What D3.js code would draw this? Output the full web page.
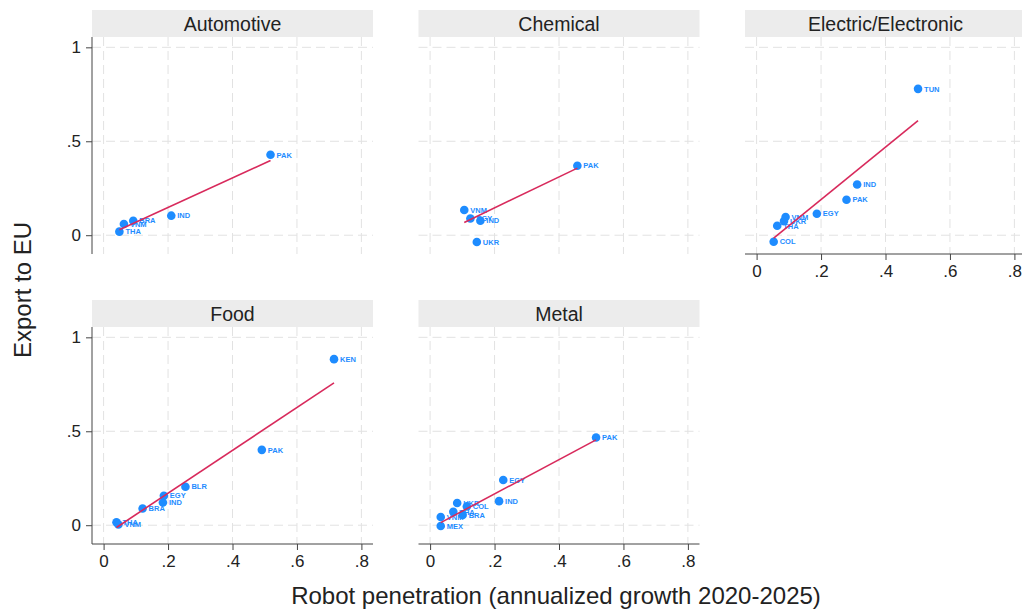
<!DOCTYPE html>
<html>
<head>
<meta charset="utf-8">
<script src="https://cdn.jsdelivr.net/npm/d3@7"></script>
<style>
  html, body { margin: 0; padding: 0; background: #fff; }
  svg { display: block; font-family: "Liberation Sans", Arial, Helvetica, sans-serif; }
</style>
</head>
<body>
<svg id="chart" width="1022" height="610"></svg>
<script>
// ---------- data ----------
const panelNames = ["Automotive", "Chemical", "Electric/Electronic", "Food", "Metal"];

const autoCountries = ["THA", "VNM", "BRA", "IND", "PAK"];
const autoX = [0.049, 0.063, 0.092, 0.210, 0.518];
const autoY = [0.019, 0.060, 0.077, 0.104, 0.428];

const chemCountries = ["VNM", "EGY", "IND", "UKR", "PAK"];
const chemX = [0.106, 0.125, 0.156, 0.145, 0.457];
const chemY = [0.134, 0.089, 0.077, -0.036, 0.370];

const elecCountries = ["COL", "THA", "UKR", "VNM", "EGY", "PAK", "IND", "TUN"];
const elecX = [0.053, 0.064, 0.085, 0.090, 0.187, 0.279, 0.312, 0.501];
const elecY = [-0.035, 0.050, 0.075, 0.097, 0.114, 0.189, 0.270, 0.779];

const foodCountries = ["THA", "VNM", "BRA", "IND", "EGY", "BLR", "PAK", "KEN"];
const foodX = [0.040, 0.046, 0.121, 0.184, 0.187, 0.254, 0.491, 0.715];
const foodY = [0.016, 0.004, 0.089, 0.121, 0.157, 0.205, 0.401, 0.884];

const metalCountries = ["MEX", "VNM", "THA", "UKR", "BRA", "COL", "IND", "EGY", "PAK"];
const metalX = [0.033, 0.033, 0.072, 0.084, 0.101, 0.114, 0.214, 0.227, 0.515];
const metalY = [-0.004, 0.044, 0.071, 0.118, 0.055, 0.100, 0.128, 0.241, 0.467];

// fitted line values at the smallest and largest x of each panel
const fitStartY = [0.029, 0.068, -0.015, -0.012, 0.014];
const fitEndY   = [0.398, 0.357, 0.610, 0.758, 0.454];

const xTicks = [0, 0.2, 0.4, 0.6, 0.8];
const xTickLabels = ["0", ".2", ".4", ".6", ".8"];
const yTicks = [0, 0.5, 1];
const yTickLabels = ["0", ".5", "1"];

const xTitle = "Robot penetration (annualized growth 2020-2025)";
const yTitle = "Export to EU";

// ---------- layout ----------
const countriesList = [autoCountries, chemCountries, elecCountries, foodCountries, metalCountries];
const xsList = [autoX, chemX, elecX, foodX, metalX];
const ysList = [autoY, chemY, elecY, foodY, metalY];

const colLeft = [92, 418.5, 745];
const rowTop = [10, 300];
const W = 281, stripH = 27, H = 217;
const pointColor = "#1e8cff";
const lineColor = "#d82a5c";
const gridColor = "#e2e2e2";
const textColor = "#222";

const x = d3.scaleLinear().domain([-0.036, 0.836]).range([0, W]);
const y = d3.scaleLinear().domain([-0.1, 1.055]).range([H, 0]);

const svg = d3.select("#chart");

panelNames.forEach((name, i) => {
  const col = i % 3, row = Math.floor(i / 3);
  const g = svg.append("g")
    .attr("transform", `translate(${colLeft[col]},${rowTop[row]})`);

  // strip
  g.append("rect").attr("x", 0).attr("y", 0).attr("width", W).attr("height", stripH)
    .attr("fill", "#ececec");
  g.append("text").attr("x", W / 2).attr("y", stripH / 2).attr("dy", "0.36em")
    .attr("text-anchor", "middle").attr("font-size", 19.5).attr("fill", textColor)
    .text(name);

  const p = g.append("g").attr("transform", `translate(0,${stripH})`);

  // grid
  p.selectAll(".hg").data(yTicks).join("line")
    .attr("x1", 0).attr("x2", W)
    .attr("y1", d => y(d)).attr("y2", d => y(d))
    .attr("stroke", gridColor).attr("stroke-width", 1).attr("stroke-dasharray", "9,5");
  p.selectAll(".vg").data(xTicks).join("line")
    .attr("y1", 0).attr("y2", H)
    .attr("x1", d => x(d)).attr("x2", d => x(d))
    .attr("stroke", gridColor).attr("stroke-width", 1).attr("stroke-dasharray", "9,5");

  const cs = countriesList[i], xs = xsList[i], ys = ysList[i];
  const pts = cs.map((c, k) => ({ c, x: xs[k], y: ys[k] }));

  // points
  p.selectAll(".pt").data(pts).join("circle")
    .attr("cx", d => x(d.x)).attr("cy", d => y(d.y)).attr("r", 4.3)
    .attr("fill", pointColor);
  // labels
  p.selectAll(".lb").data(pts).join("text")
    .attr("x", d => x(d.x) + 6).attr("y", d => y(d.y)).attr("dy", "0.36em")
    .attr("font-size", 7.5).attr("font-weight", "bold").attr("fill", pointColor)
    .text(d => d.c);

  // fitted line
  const xmin = d3.min(xs), xmax = d3.max(xs);
  p.append("line")
    .attr("x1", x(xmin)).attr("y1", y(fitStartY[i]))
    .attr("x2", x(xmax)).attr("y2", y(fitEndY[i]))
    .attr("stroke", lineColor).attr("stroke-width", 1.6);

  // y axis on first column
  if (col === 0) {
    const ya = p.append("g").call(
      d3.axisLeft(y).tickValues(yTicks).tickFormat((d, k) => yTickLabels[k]).tickSize(6).tickPadding(5));
    ya.select(".domain").attr("d", `M0,0V${H}`).attr("stroke", "#444");
    ya.selectAll(".tick line").attr("stroke", "#444");
    ya.selectAll("text").attr("font-size", 17).attr("fill", textColor)
      .attr("font-family", "Liberation Sans, Arial, sans-serif");
  }
  // x axis on panels without a panel below
  if (row === 1 || col === 2) {
    const xa = p.append("g").attr("transform", `translate(0,${H})`).call(
      d3.axisBottom(x).tickValues(xTicks).tickFormat((d, k) => xTickLabels[k]).tickSize(6).tickPadding(5));
    xa.select(".domain").attr("d", `M0,0H${W}`).attr("stroke", "#444");
    xa.selectAll(".tick line").attr("stroke", "#444");
    xa.selectAll("text").attr("font-size", 17).attr("fill", textColor)
      .attr("font-family", "Liberation Sans, Arial, sans-serif");
  }
});

// axis titles
svg.append("text").attr("x", 556).attr("y", 604)
  .attr("text-anchor", "middle").attr("font-size", 24).attr("fill", textColor)
  .text(xTitle);
svg.append("text")
  .attr("transform", "translate(31,290) rotate(-90)")
  .attr("text-anchor", "middle").attr("font-size", 24).attr("fill", textColor)
  .text(yTitle);
</script>
</body>
</html>
